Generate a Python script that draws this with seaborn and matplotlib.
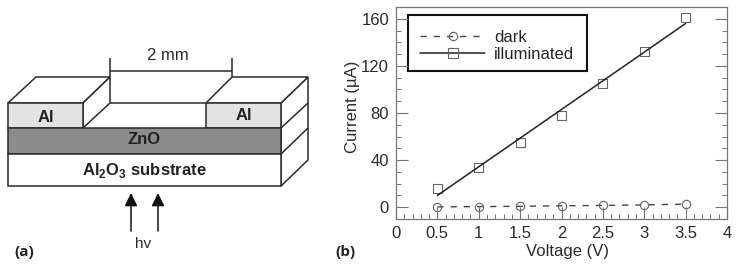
import numpy as np
import pandas as pd
import matplotlib
matplotlib.use("Agg")
import matplotlib.pyplot as plt
from matplotlib.patches import Polygon, Rectangle
from matplotlib.ticker import MultipleLocator
import seaborn as sns

voltage = [0.5, 1.0, 1.5, 2.0, 2.5, 3.0, 3.5]
dark = [0.3, 0.5, 0.8, 1.2, 1.5, 2.0, 2.6]
illuminated = [16, 34, 55, 78, 105, 132, 161]
fit_voltage = [0.5, 3.5]
fit_current = [10, 156]
x_ticks = [0, 0.5, 1, 1.5, 2, 2.5, 3, 3.5, 4]
x_tick_labels = ["0", "0.5", "1", "1.5", "2", "2.5", "3", "3.5", "4"]
y_ticks = [0, 40, 80, 120, 160]

W, H = 736, 268
INK = "#2b2b2b"
GRID = "#777777"
DASH = (0, (4.5, 5))

sns.set_theme(style="white")
plt.rcParams["font.family"] = ["Liberation Sans", "DejaVu Sans"]
plt.rcParams["mathtext.fontset"] = "custom"
plt.rcParams["mathtext.bf"] = "Liberation Sans:bold"
plt.rcParams["mathtext.rm"] = "Liberation Sans"

fig = plt.figure(figsize=(W / 100, H / 100), dpi=100)

# left schematic, drawn in pixel coords of the image
sk = fig.add_axes([0, 0, 1, 1])
sk.set_xlim(0, W)
sk.set_ylim(H, 0)
sk.axis("off")

def box(pts, color="white"):
    sk.add_patch(Polygon(pts, closed=True, fc=color, ec=INK, lw=1.1, joinstyle="miter"))

def seg(xs, ys, lw=1.1):
    sk.plot(xs, ys, color=INK, lw=lw, solid_capstyle="butt")

# side face + top faces first
box([(281, 103), (308, 77), (308, 160), (281, 186)])
box([(8, 103), (36, 77), (110, 77), (83, 103)])
box([(206, 103), (232, 77), (308, 77), (281, 103)])
box([(83, 103), (110, 77), (110, 103), (83, 128)])
seg([110, 206], [103, 103])
seg([281, 308], [128, 103])
seg([281, 308], [154, 128])
# front layers
box([(8, 103), (83, 103), (83, 128), (8, 128)], "#e3e3e3")
box([(206, 103), (281, 103), (281, 128), (206, 128)], "#e3e3e3")
box([(8, 128), (281, 128), (281, 154), (8, 154)], "#8c8c8c")
box([(8, 154), (281, 154), (281, 186), (8, 186)])

# 2 mm dimension
seg([110, 110], [58, 77])
seg([232, 232], [58, 77])
seg([110, 232], [71, 71])

# arrows for the light
for ax_x in [131, 158]:
    sk.annotate("", xy=(ax_x, 193), xytext=(ax_x, 231),
                arrowprops=dict(arrowstyle="-|>,head_width=0.32,head_length=0.65",
                                color="#111111", lw=1.1, shrinkA=0, shrinkB=0))

sk.text(168, 56, "2 mm", ha="center", va="center", fontsize=12, color=INK)
sk.text(46, 118, "Al", ha="center", va="center", fontsize=12, fontweight="bold", color="#222222")
sk.text(244, 116, "Al", ha="center", va="center", fontsize=12, fontweight="bold", color="#222222")
sk.text(144, 140, "ZnO", ha="center", va="center", fontsize=12, fontweight="bold", color="#222222")
sk.text(144, 170, r"Al$_{\mathbf{2}}$O$_{\mathbf{3}}$ substrate", ha="center", va="center",
        fontsize=12, fontweight="bold", color="#222222")
sk.text(143, 244, "hv", ha="center", va="center", fontsize=11, color=INK)
sk.text(24, 252, "(a)", ha="center", va="center", fontsize=11, fontweight="bold",
        family=["Open Sans", "DejaVu Sans"], color="#222222")
sk.text(345, 252, "(b)", ha="center", va="center", fontsize=11, fontweight="bold",
        family=["Open Sans", "DejaVu Sans"], color="#222222")

# legend frame sits on the pixel axes, the rows are a bit low in it
sk.add_patch(Rectangle((408, 15), 179, 56, fc="white", ec="#111111", lw=1.5))

# right plot
ax = fig.add_axes([396 / W, 1 - 219 / H, (727 - 396) / W, (219 - 7) / H])
ax.patch.set_alpha(0)

dark_df = pd.DataFrame({"voltage": voltage, "current": dark})
ill_df = pd.DataFrame({"voltage": voltage, "current": illuminated})
fit_df = pd.DataFrame({"voltage": fit_voltage, "current": fit_current})

sns.lineplot(data=dark_df, x="voltage", y="current", ax=ax, color="#444444", lw=1.0,
             linestyle=DASH, marker="o", ms=6, mfc="none", mec="#666666", mew=0.8,
             errorbar=None)
sns.lineplot(data=fit_df, x="voltage", y="current", ax=ax, color="#222222", lw=1.1,
             errorbar=None)
sns.scatterplot(data=ill_df, x="voltage", y="current", ax=ax, marker="s", s=42,
                facecolor="none", edgecolor="#666666", linewidth=0.8)

ax.set_xlim(0, 4)
ax.set_ylim(-10, 170)
ax.set_xticks(x_ticks)
ax.set_xticklabels(x_tick_labels)
ax.set_yticks(y_ticks)
ax.xaxis.set_minor_locator(MultipleLocator(0.1))
ax.yaxis.set_minor_locator(MultipleLocator(10))
ax.tick_params(which="major", direction="in", length=8.6, width=0.8, color=GRID,
               top=False, right=True, left=True, bottom=True, labelsize=12, labelcolor=INK, pad=5)
ax.tick_params(which="minor", direction="in", length=3.6, width=0.7, color=GRID,
               top=False, right=True, left=True, bottom=True)
for s in ax.spines.values():
    s.set_linewidth(0.9)
    s.set_color(GRID)
ax.set_xlabel("Voltage (V)", fontsize=12, color=INK)
ax.set_ylabel("Current (\u00b5A)", fontsize=12, color=INK)
ax.xaxis.set_label_coords((568 - 396) / 331, -(244 - 219) / 212)
ax.yaxis.set_label_coords((360 - 396) / 331, (219 - 107) / 212)

leg_handles = [
    plt.Line2D([], [], color="#444444", lw=1.0, linestyle=DASH, marker="o", ms=6,
               mfc="none", mec="#666666", mew=0.8),
    plt.Line2D([], [], color="#222222", lw=1.1, marker="s", ms=6.5, mfc="none",
               mec="#666666", mew=0.8),
]
leg = ax.legend(leg_handles, ["dark", "illuminated"], loc="upper left",
                bbox_to_anchor=((408 - 396) / 331, (219 - 17.5) / 212), borderaxespad=0,
                frameon=False, fontsize=12, handlelength=3.9,
                labelspacing=0.1, borderpad=0.75, handletextpad=0.5)

fig.savefig("out.png", dpi=100)
